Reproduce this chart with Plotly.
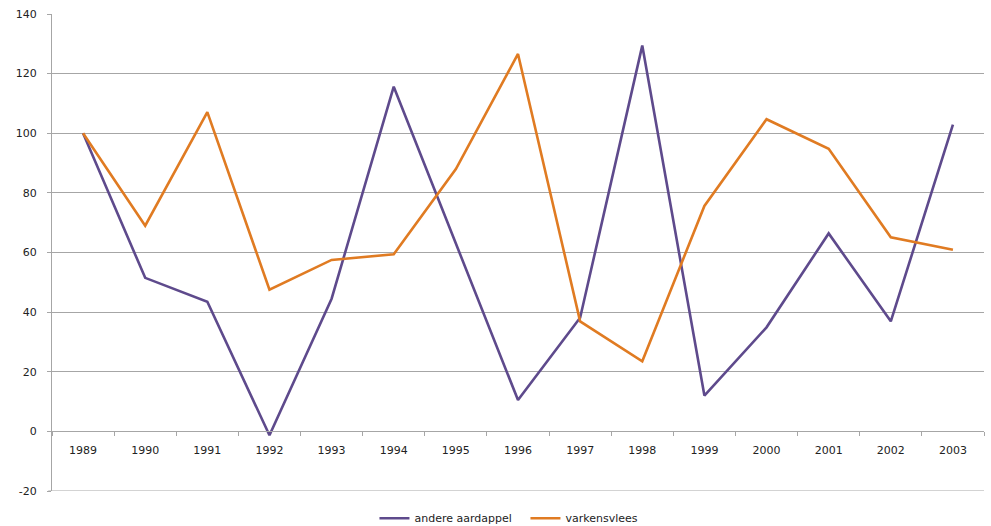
import plotly.graph_objects as go

years = [str(y) for y in range(1989, 2004)]
andere_aardappel = [100, 51.5, 43.5, -1.3, 44.5, 115.6, 63, 10.5, 38.1, 129.4,
                    12.0, 34.9, 66.4, 36.9, 102.9]
varkensvlees = [100, 69.0, 107.1, 47.5, 57.5, 59.4, 88.0, 126.6, 36.9, 23.5,
                75.6, 104.7, 94.8, 65.1, 60.9]
y_ticks = [-20, 0, 20, 40, 60, 80, 100, 120, 140]
y_tick_labels = ["-20", "0", "20", "40", "60", "80", "100", "120", "140"]

PURPLE = "#5E4A8C"
ORANGE = "#E07B22"
GRID = "#A6A6A6"
FONT = dict(family="DejaVu Sans", size=11, color="#222222")

fig = go.Figure()
fig.add_trace(go.Scatter(x=years, y=andere_aardappel, name="andere aardappel",
                         mode="lines", line=dict(color=PURPLE, width=2.6)))
fig.add_trace(go.Scatter(x=years, y=varkensvlees, name="varkensvlees",
                         mode="lines", line=dict(color=ORANGE, width=2.6)))

ymin, ymax = y_ticks[0], y_ticks[-1]

# bottom gridline at the lower range edge, with its outside tick
fig.add_shape(type="line", xref="paper", yref="y", x0=-0.004, x1=1, y0=ymin, y1=ymin,
              line=dict(color=GRID, width=1), layer="below")

fig.update_layout(
    width=991, height=526,
    margin=dict(l=52, r=7, t=14, b=35, autoexpand=False),
    paper_bgcolor="white", plot_bgcolor="white",
    font=FONT,
    showlegend=True,
    legend=dict(orientation="h", x=0.508, xanchor="center", y=-0.057,
                yanchor="middle", font=dict(family="DejaVu Sans", size=11, color="#222222"),
                itemwidth=30, entrywidth=106, entrywidthmode="pixels"),
    xaxis=dict(type="category", range=[-0.5, 14.5],
               anchor="free", position=(0 - ymin) / (ymax - ymin),
               showline=True, linecolor=GRID, linewidth=1,
               showgrid=False, zeroline=False,
               ticks="outside", tickson="boundaries", ticklen=4,
               tickcolor=GRID, ticklabelstandoff=8,
               tickfont=FONT),
    yaxis=dict(range=[ymin, ymax], tickmode="array",
               tickvals=y_ticks, ticktext=y_tick_labels,
               showline=True, linecolor=GRID, linewidth=1,
               showgrid=True, gridcolor=GRID, gridwidth=1,
               zeroline=False,
               ticks="outside", ticklen=4, tickcolor=GRID,
               ticklabelstandoff=8, tickfont=FONT),
)

fig.write_html("out.html")
